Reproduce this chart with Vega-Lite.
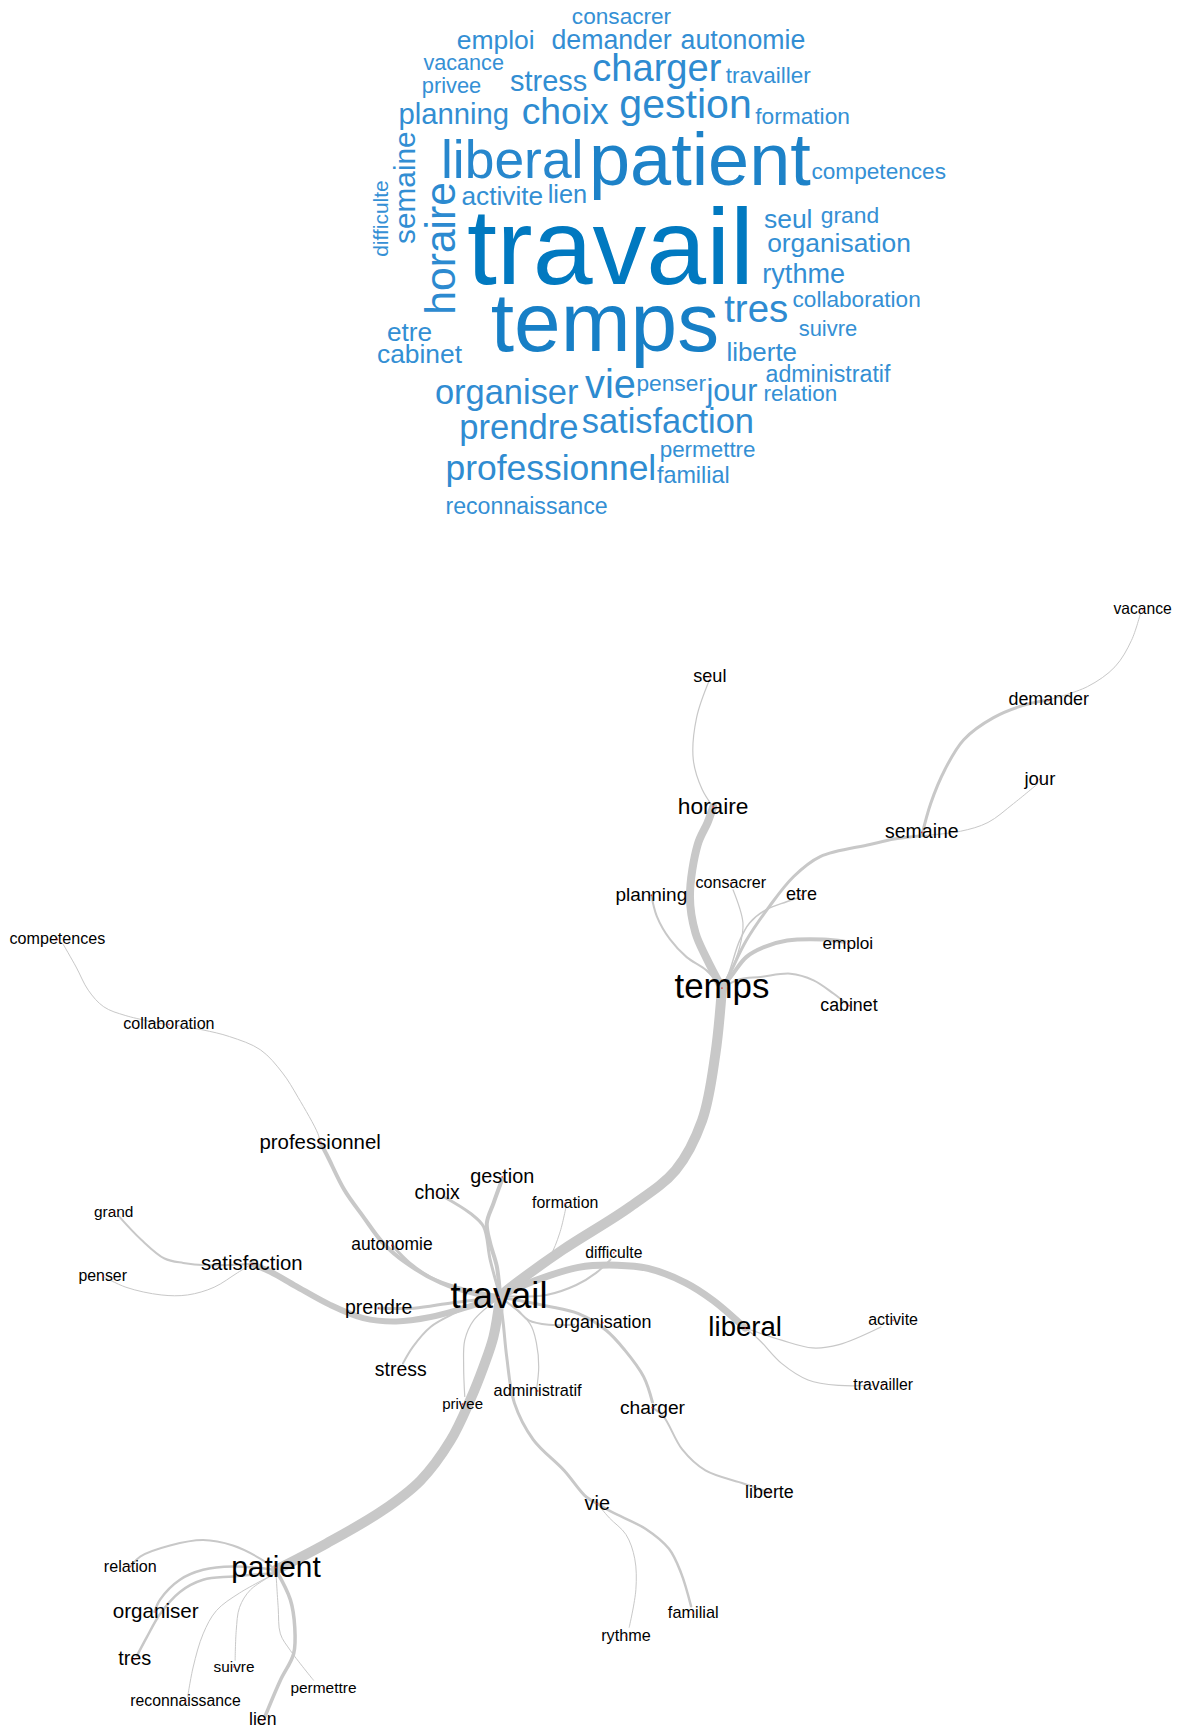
{
"$schema": "https://vega.github.io/schema/vega-lite/v6.json",
"width": 1179, "height": 1731, "autosize": "none", "padding": 0,
"background": "white",
"config": {"view": {"stroke": null}},
"datasets": {
"cloud": [
{"word":"consacrer","x":563,"y":15,"freq":20.5,"rot":0},
{"word":"emploi","x":449,"y":37,"freq":24,"rot":0},
{"word":"demander","x":554,"y":37,"freq":24.2,"rot":0},
{"word":"autonomie","x":673,"y":37,"freq":24.2,"rot":0},
{"word":"vacance","x":420,"y":58,"freq":19.6,"rot":0},
{"word":"privee","x":409,"y":78,"freq":19.8,"rot":0},
{"word":"stress","x":497,"y":74,"freq":26.2,"rot":0},
{"word":"charger","x":595,"y":63,"freq":34.5,"rot":0},
{"word":"travailler","x":696,"y":69,"freq":20.4,"rot":0},
{"word":"planning","x":411,"y":104,"freq":26.5,"rot":0},
{"word":"choix","x":512,"y":102,"freq":33.8,"rot":0},
{"word":"gestion","x":621,"y":96,"freq":37.2,"rot":0},
{"word":"formation","x":727,"y":106,"freq":20.6,"rot":0},
{"word":"liberal","x":464,"y":147,"freq":48.4,"rot":0},
{"word":"patient","x":634,"y":148,"freq":67,"rot":0},
{"word":"competences","x":796,"y":156,"freq":20.5,"rot":0},
{"word":"activite","x":455,"y":178,"freq":23.8,"rot":0},
{"word":"lien","x":514,"y":177,"freq":23,"rot":0},
{"word":"seul","x":714,"y":199,"freq":24,"rot":0},
{"word":"grand","x":770,"y":196,"freq":20.7,"rot":0},
{"word":"organisation","x":760,"y":221,"freq":23.9,"rot":0},
{"word":"difficulte","x":346,"y":198,"freq":19,"rot":270},
{"word":"semaine","x":368,"y":170,"freq":27,"rot":270},
{"word":"horaire","x":400,"y":225,"freq":38.6,"rot":270},
{"word":"travail","x":553,"y":228,"freq":97.5,"rot":0},
{"word":"rythme","x":728,"y":249,"freq":24.5,"rot":0},
{"word":"temps","x":548,"y":295,"freq":76,"rot":0},
{"word":"tres","x":685,"y":281,"freq":34.8,"rot":0},
{"word":"collaboration","x":776,"y":272,"freq":20.5,"rot":0},
{"word":"suivre","x":750,"y":298,"freq":19.9,"rot":0},
{"word":"etre","x":371,"y":302,"freq":23.8,"rot":0},
{"word":"cabinet","x":380,"y":322,"freq":23.9,"rot":0},
{"word":"liberte","x":690,"y":320,"freq":23.5,"rot":0},
{"word":"administratif","x":750,"y":340,"freq":21,"rot":0},
{"word":"relation","x":725,"y":357,"freq":20.4,"rot":0},
{"word":"organiser","x":459,"y":357,"freq":31.2,"rot":0},
{"word":"vie","x":553,"y":350,"freq":36,"rot":0},
{"word":"penser","x":608,"y":348,"freq":20.6,"rot":0},
{"word":"jour","x":663,"y":355,"freq":27.6,"rot":0},
{"word":"prendre","x":470,"y":389,"freq":31.3,"rot":0},
{"word":"satisfaction","x":605,"y":383,"freq":31.2,"rot":0},
{"word":"permettre","x":641,"y":408,"freq":20.3,"rot":0},
{"word":"professionnel","x":499,"y":425,"freq":32.1,"rot":0},
{"word":"familial","x":628,"y":431,"freq":21.2,"rot":0},
{"word":"reconnaissance","x":477,"y":459,"freq":21,"rot":0}
],
"nodes": [
{"label":"vacance","x":1035,"y":552,"deg":14.2},
{"label":"seul","x":643,"y":613,"deg":16.4},
{"label":"demander","x":950,"y":634,"deg":16.2},
{"label":"jour","x":942,"y":706,"deg":16.8},
{"label":"horaire","x":646,"y":731,"deg":20.6},
{"label":"semaine","x":835,"y":754,"deg":17.7},
{"label":"planning","x":590,"y":811,"deg":17.2},
{"label":"consacrer","x":662,"y":800,"deg":14.6},
{"label":"etre","x":726,"y":811,"deg":16.3},
{"label":"competences","x":52,"y":851,"deg":14.6},
{"label":"emploi","x":768,"y":855,"deg":15.6},
{"label":"temps","x":654,"y":895,"deg":31.6},
{"label":"cabinet","x":769,"y":911,"deg":16.1},
{"label":"collaboration","x":153,"y":928,"deg":14.6},
{"label":"professionnel","x":290,"y":1035,"deg":18.5},
{"label":"gestion","x":455,"y":1066,"deg":18},
{"label":"choix","x":396,"y":1081,"deg":17.6},
{"label":"formation","x":512,"y":1090,"deg":14.4},
{"label":"grand","x":103,"y":1098,"deg":14},
{"label":"autonomie","x":355,"y":1128,"deg":15.8},
{"label":"difficulte","x":556,"y":1135,"deg":14.2},
{"label":"satisfaction","x":228,"y":1145,"deg":18.4},
{"label":"penser","x":93,"y":1156,"deg":14.4},
{"label":"travail","x":452,"y":1175,"deg":33},
{"label":"prendre","x":343,"y":1185,"deg":17.7},
{"label":"organisation","x":546,"y":1198,"deg":16.2},
{"label":"liberal","x":675,"y":1203,"deg":25},
{"label":"activite","x":809,"y":1196,"deg":14.5},
{"label":"stress","x":363,"y":1241,"deg":17.6},
{"label":"administratif","x":487,"y":1260,"deg":14.8},
{"label":"privee","x":419,"y":1272,"deg":13.6},
{"label":"travailler","x":800,"y":1255,"deg":14.3},
{"label":"charger","x":591,"y":1275,"deg":17.4},
{"label":"liberte","x":697,"y":1352,"deg":16.2},
{"label":"vie","x":541,"y":1362,"deg":18},
{"label":"relation","x":118,"y":1419,"deg":14.6},
{"label":"patient","x":250,"y":1420,"deg":27},
{"label":"organiser","x":141,"y":1460,"deg":18.7},
{"label":"familial","x":628,"y":1461,"deg":14.8},
{"label":"rythme","x":567,"y":1482,"deg":14.7},
{"label":"tres","x":122,"y":1503,"deg":18},
{"label":"suivre","x":212,"y":1510,"deg":13.9},
{"label":"permettre","x":293,"y":1529,"deg":14},
{"label":"reconnaissance","x":168,"y":1541,"deg":14.3},
{"label":"lien","x":238,"y":1558,"deg":16}
],
"edges": [
{"e":"temps-travail","i":1,"x":654,"y":895,"w":10},{"e":"temps-travail","i":2,"x":648,"y":955,"w":10},{"e":"temps-travail","i":3,"x":636,"y":1015,"w":10},{"e":"temps-travail","i":4,"x":612,"y":1060,"w":10},{"e":"temps-travail","i":5,"x":571,"y":1093,"w":10},{"e":"temps-travail","i":6,"x":510,"y":1132,"w":10},{"e":"temps-travail","i":7,"x":468,"y":1162,"w":10},{"e":"temps-travail","i":8,"x":453,"y":1174,"w":10},
{"e":"temps-horaire","i":1,"x":646,"y":731,"w":8},{"e":"temps-horaire","i":2,"x":641,"y":745,"w":8},{"e":"temps-horaire","i":3,"x":632,"y":765,"w":8},{"e":"temps-horaire","i":4,"x":625,"y":812,"w":8},{"e":"temps-horaire","i":5,"x":630,"y":845,"w":8},{"e":"temps-horaire","i":6,"x":640,"y":868,"w":8},{"e":"temps-horaire","i":7,"x":654,"y":895,"w":8},
{"e":"horaire-seul","i":1,"x":643,"y":615,"w":1.2},{"e":"horaire-seul","i":2,"x":631,"y":650,"w":1.2},{"e":"horaire-seul","i":3,"x":628,"y":688,"w":1.2},{"e":"horaire-seul","i":4,"x":636,"y":715,"w":1.2},{"e":"horaire-seul","i":5,"x":646,"y":731,"w":1.2},
{"e":"temps-planning","i":1,"x":590,"y":811,"w":2},{"e":"temps-planning","i":2,"x":595,"y":830,"w":2},{"e":"temps-planning","i":3,"x":607,"y":851,"w":2},{"e":"temps-planning","i":4,"x":622,"y":867,"w":2},{"e":"temps-planning","i":5,"x":640,"y":879,"w":2},{"e":"temps-planning","i":6,"x":654,"y":895,"w":2},
{"e":"temps-consacrer","i":1,"x":664,"y":806,"w":1.2},{"e":"temps-consacrer","i":2,"x":673,"y":836,"w":1.2},{"e":"temps-consacrer","i":3,"x":670,"y":858,"w":1.2},{"e":"temps-consacrer","i":4,"x":661,"y":882,"w":1.2},{"e":"temps-consacrer","i":5,"x":654,"y":895,"w":1.2},
{"e":"temps-etre","i":1,"x":724,"y":813,"w":1.5},{"e":"temps-etre","i":2,"x":712,"y":817,"w":1.5},{"e":"temps-etre","i":3,"x":694,"y":824,"w":1.5},{"e":"temps-etre","i":4,"x":679,"y":836,"w":1.5},{"e":"temps-etre","i":5,"x":670,"y":852,"w":1.5},{"e":"temps-etre","i":6,"x":660,"y":882,"w":1.5},{"e":"temps-etre","i":7,"x":654,"y":895,"w":1.5},
{"e":"temps-semaine","i":1,"x":835,"y":757,"w":3},{"e":"temps-semaine","i":2,"x":810,"y":760,"w":3},{"e":"temps-semaine","i":3,"x":788,"y":765,"w":3},{"e":"temps-semaine","i":4,"x":743,"y":776,"w":3},{"e":"temps-semaine","i":5,"x":719,"y":794,"w":3},{"e":"temps-semaine","i":6,"x":697,"y":821,"w":3},{"e":"temps-semaine","i":7,"x":676,"y":852,"w":3},{"e":"temps-semaine","i":8,"x":661,"y":882,"w":3},{"e":"temps-semaine","i":9,"x":654,"y":895,"w":3},
{"e":"semaine-demander","i":1,"x":835,"y":757,"w":3},{"e":"semaine-demander","i":2,"x":843,"y":728,"w":3},{"e":"semaine-demander","i":3,"x":856,"y":697,"w":3},{"e":"semaine-demander","i":4,"x":873,"y":670,"w":3},{"e":"semaine-demander","i":5,"x":900,"y":650,"w":3},{"e":"semaine-demander","i":6,"x":930,"y":638,"w":3},{"e":"semaine-demander","i":7,"x":950,"y":634,"w":3},
{"e":"demander-vacance","i":1,"x":950,"y":634,"w":1},{"e":"demander-vacance","i":2,"x":985,"y":622,"w":1},{"e":"demander-vacance","i":3,"x":1010,"y":604,"w":1},{"e":"demander-vacance","i":4,"x":1025,"y":580,"w":1},{"e":"demander-vacance","i":5,"x":1033,"y":556,"w":1},
{"e":"semaine-jour","i":1,"x":835,"y":757,"w":1},{"e":"semaine-jour","i":2,"x":870,"y":753,"w":1},{"e":"semaine-jour","i":3,"x":895,"y":745,"w":1},{"e":"semaine-jour","i":4,"x":918,"y":728,"w":1},{"e":"semaine-jour","i":5,"x":940,"y":710,"w":1},
{"e":"temps-emploi","i":1,"x":654,"y":895,"w":4},{"e":"temps-emploi","i":2,"x":664,"y":882,"w":4},{"e":"temps-emploi","i":3,"x":676,"y":867,"w":4},{"e":"temps-emploi","i":4,"x":692,"y":858,"w":4},{"e":"temps-emploi","i":5,"x":713,"y":852,"w":4},{"e":"temps-emploi","i":6,"x":746,"y":851,"w":4},{"e":"temps-emploi","i":7,"x":765,"y":853,"w":4},
{"e":"temps-cabinet","i":1,"x":654,"y":895,"w":2},{"e":"temps-cabinet","i":2,"x":670,"y":887,"w":2},{"e":"temps-cabinet","i":3,"x":689,"y":885,"w":2},{"e":"temps-cabinet","i":4,"x":716,"y":882,"w":2},{"e":"temps-cabinet","i":5,"x":737,"y":888,"w":2},{"e":"temps-cabinet","i":6,"x":755,"y":900,"w":2},{"e":"temps-cabinet","i":7,"x":769,"y":911,"w":2},
{"e":"travail-liberal","i":1,"x":453,"y":1174,"w":7},{"e":"travail-liberal","i":2,"x":485,"y":1160,"w":7},{"e":"travail-liberal","i":3,"x":524,"y":1148,"w":7},{"e":"travail-liberal","i":4,"x":559,"y":1146,"w":7},{"e":"travail-liberal","i":5,"x":587,"y":1149,"w":7},{"e":"travail-liberal","i":6,"x":621,"y":1162,"w":7},{"e":"travail-liberal","i":7,"x":646,"y":1178,"w":7},{"e":"travail-liberal","i":8,"x":675,"y":1203,"w":7},
{"e":"liberal-activite","i":1,"x":675,"y":1203,"w":1.2},{"e":"liberal-activite","i":2,"x":708,"y":1214,"w":1.2},{"e":"liberal-activite","i":3,"x":736,"y":1221,"w":1.2},{"e":"liberal-activite","i":4,"x":760,"y":1218,"w":1.2},{"e":"liberal-activite","i":5,"x":798,"y":1202,"w":1.2},
{"e":"liberal-travailler","i":1,"x":675,"y":1203,"w":1.2},{"e":"liberal-travailler","i":2,"x":688,"y":1214,"w":1.2},{"e":"liberal-travailler","i":3,"x":708,"y":1235,"w":1.2},{"e":"liberal-travailler","i":4,"x":732,"y":1250,"w":1.2},{"e":"liberal-travailler","i":5,"x":760,"y":1255,"w":1.2},{"e":"liberal-travailler","i":6,"x":790,"y":1255,"w":1.2},
{"e":"travail-difficulte","i":1,"x":453,"y":1174,"w":2},{"e":"travail-difficulte","i":2,"x":495,"y":1173,"w":2},{"e":"travail-difficulte","i":3,"x":522,"y":1164,"w":2},{"e":"travail-difficulte","i":4,"x":540,"y":1153,"w":2},{"e":"travail-difficulte","i":5,"x":553,"y":1141,"w":2},
{"e":"travail-formation","i":1,"x":453,"y":1174,"w":1},{"e":"travail-formation","i":2,"x":486,"y":1150,"w":1},{"e":"travail-formation","i":3,"x":498,"y":1138,"w":1},{"e":"travail-formation","i":4,"x":507,"y":1117,"w":1},{"e":"travail-formation","i":5,"x":513,"y":1092,"w":1},
{"e":"travail-gestion","i":1,"x":453,"y":1174,"w":4},{"e":"travail-gestion","i":2,"x":450,"y":1147,"w":4},{"e":"travail-gestion","i":3,"x":444,"y":1126,"w":4},{"e":"travail-gestion","i":4,"x":441,"y":1108,"w":4},{"e":"travail-gestion","i":5,"x":447,"y":1090,"w":4},{"e":"travail-gestion","i":6,"x":455,"y":1068,"w":4},
{"e":"travail-choix","i":1,"x":453,"y":1174,"w":3},{"e":"travail-choix","i":2,"x":444,"y":1141,"w":3},{"e":"travail-choix","i":3,"x":438,"y":1111,"w":3},{"e":"travail-choix","i":4,"x":426,"y":1099,"w":3},{"e":"travail-choix","i":5,"x":402,"y":1084,"w":3},
{"e":"travail-professionnel","i":1,"x":290,"y":1035,"w":4},{"e":"travail-professionnel","i":2,"x":296,"y":1046,"w":4},{"e":"travail-professionnel","i":3,"x":312,"y":1078,"w":4},{"e":"travail-professionnel","i":4,"x":329,"y":1102,"w":4},{"e":"travail-professionnel","i":5,"x":347,"y":1126,"w":4},{"e":"travail-professionnel","i":6,"x":368,"y":1144,"w":4},{"e":"travail-professionnel","i":7,"x":399,"y":1162,"w":4},{"e":"travail-professionnel","i":8,"x":433,"y":1173,"w":4},{"e":"travail-professionnel","i":9,"x":453,"y":1175,"w":4},
{"e":"professionnel-collaboration","i":1,"x":290,"y":1035,"w":1},{"e":"professionnel-collaboration","i":2,"x":288,"y":1027,"w":1},{"e":"professionnel-collaboration","i":3,"x":270,"y":994,"w":1},{"e":"professionnel-collaboration","i":4,"x":256,"y":972,"w":1},{"e":"professionnel-collaboration","i":5,"x":236,"y":951,"w":1},{"e":"professionnel-collaboration","i":6,"x":208,"y":939,"w":1},{"e":"professionnel-collaboration","i":7,"x":184,"y":933,"w":1},{"e":"professionnel-collaboration","i":8,"x":160,"y":929,"w":1},
{"e":"collaboration-competences","i":1,"x":150,"y":928,"w":1},{"e":"collaboration-competences","i":2,"x":114,"y":920,"w":1},{"e":"collaboration-competences","i":3,"x":94,"y":912,"w":1},{"e":"collaboration-competences","i":4,"x":80,"y":897,"w":1},{"e":"collaboration-competences","i":5,"x":69,"y":876,"w":1},{"e":"collaboration-competences","i":6,"x":57,"y":855,"w":1},
{"e":"travail-autonomie","i":1,"x":356,"y":1129,"w":3},{"e":"travail-autonomie","i":2,"x":371,"y":1144,"w":3},{"e":"travail-autonomie","i":3,"x":390,"y":1157,"w":3},{"e":"travail-autonomie","i":4,"x":414,"y":1166,"w":3},{"e":"travail-autonomie","i":5,"x":441,"y":1172,"w":3},{"e":"travail-autonomie","i":6,"x":453,"y":1174,"w":3},
{"e":"satisfaction-travail","i":1,"x":228,"y":1145,"w":6},{"e":"satisfaction-travail","i":2,"x":245,"y":1152,"w":6},{"e":"satisfaction-travail","i":3,"x":268,"y":1165,"w":6},{"e":"satisfaction-travail","i":4,"x":299,"y":1182,"w":6},{"e":"satisfaction-travail","i":5,"x":329,"y":1194,"w":6},{"e":"satisfaction-travail","i":6,"x":359,"y":1197,"w":6},{"e":"satisfaction-travail","i":7,"x":390,"y":1193,"w":6},{"e":"satisfaction-travail","i":8,"x":420,"y":1185,"w":6},{"e":"satisfaction-travail","i":9,"x":453,"y":1175,"w":6},
{"e":"prendre-travail","i":1,"x":343,"y":1185,"w":3},{"e":"prendre-travail","i":2,"x":375,"y":1185,"w":3},{"e":"prendre-travail","i":3,"x":410,"y":1180,"w":3},{"e":"prendre-travail","i":4,"x":453,"y":1175,"w":3},
{"e":"satisfaction-grand","i":1,"x":228,"y":1145,"w":2},{"e":"satisfaction-grand","i":2,"x":187,"y":1146,"w":2},{"e":"satisfaction-grand","i":3,"x":166,"y":1144,"w":2},{"e":"satisfaction-grand","i":4,"x":149,"y":1140,"w":2},{"e":"satisfaction-grand","i":5,"x":128,"y":1123,"w":2},{"e":"satisfaction-grand","i":6,"x":108,"y":1102,"w":2},
{"e":"satisfaction-penser","i":1,"x":228,"y":1145,"w":1},{"e":"satisfaction-penser","i":2,"x":215,"y":1153,"w":1},{"e":"satisfaction-penser","i":3,"x":194,"y":1166,"w":1},{"e":"satisfaction-penser","i":4,"x":170,"y":1173,"w":1},{"e":"satisfaction-penser","i":5,"x":146,"y":1173,"w":1},{"e":"satisfaction-penser","i":6,"x":114,"y":1166,"w":1},{"e":"satisfaction-penser","i":7,"x":93,"y":1156,"w":1},
{"e":"travail-stress","i":1,"x":453,"y":1175,"w":2},{"e":"travail-stress","i":2,"x":430,"y":1182,"w":2},{"e":"travail-stress","i":3,"x":411,"y":1190,"w":2},{"e":"travail-stress","i":4,"x":390,"y":1202,"w":2},{"e":"travail-stress","i":5,"x":374,"y":1220,"w":2},{"e":"travail-stress","i":6,"x":365,"y":1235,"w":2},
{"e":"travail-privee","i":1,"x":453,"y":1175,"w":1.2},{"e":"travail-privee","i":2,"x":429,"y":1196,"w":1.2},{"e":"travail-privee","i":3,"x":421,"y":1214,"w":1.2},{"e":"travail-privee","i":4,"x":420,"y":1238,"w":1.2},{"e":"travail-privee","i":5,"x":421,"y":1265,"w":1.2},
{"e":"travail-administratif","i":1,"x":453,"y":1175,"w":1.2},{"e":"travail-administratif","i":2,"x":480,"y":1199,"w":1.2},{"e":"travail-administratif","i":3,"x":486,"y":1217,"w":1.2},{"e":"travail-administratif","i":4,"x":488,"y":1238,"w":1.2},{"e":"travail-administratif","i":5,"x":486,"y":1259,"w":1.2},
{"e":"travail-organisation","i":1,"x":453,"y":1175,"w":2},{"e":"travail-organisation","i":2,"x":469,"y":1187,"w":2},{"e":"travail-organisation","i":3,"x":479,"y":1196,"w":2},{"e":"travail-organisation","i":4,"x":497,"y":1200,"w":2},{"e":"travail-organisation","i":5,"x":520,"y":1200,"w":2},
{"e":"travail-charger","i":1,"x":453,"y":1175,"w":3},{"e":"travail-charger","i":2,"x":495,"y":1183,"w":3},{"e":"travail-charger","i":3,"x":524,"y":1190,"w":3},{"e":"travail-charger","i":4,"x":549,"y":1205,"w":3},{"e":"travail-charger","i":5,"x":566,"y":1223,"w":3},{"e":"travail-charger","i":6,"x":583,"y":1247,"w":3},{"e":"travail-charger","i":7,"x":591,"y":1270,"w":3},
{"e":"charger-liberte","i":1,"x":591,"y":1275,"w":2},{"e":"charger-liberte","i":2,"x":601,"y":1283,"w":2},{"e":"charger-liberte","i":3,"x":618,"y":1313,"w":2},{"e":"charger-liberte","i":4,"x":639,"y":1332,"w":2},{"e":"charger-liberte","i":5,"x":674,"y":1344,"w":2},{"e":"charger-liberte","i":6,"x":697,"y":1352,"w":2},
{"e":"travail-vie","i":1,"x":453,"y":1175,"w":3},{"e":"travail-vie","i":2,"x":456,"y":1200,"w":3},{"e":"travail-vie","i":3,"x":459,"y":1229,"w":3},{"e":"travail-vie","i":4,"x":466,"y":1271,"w":3},{"e":"travail-vie","i":5,"x":483,"y":1304,"w":3},{"e":"travail-vie","i":6,"x":511,"y":1332,"w":3},{"e":"travail-vie","i":7,"x":531,"y":1356,"w":3},{"e":"travail-vie","i":8,"x":541,"y":1362,"w":3},
{"e":"vie-familial","i":1,"x":541,"y":1362,"w":2.5},{"e":"vie-familial","i":2,"x":555,"y":1370,"w":2.5},{"e":"vie-familial","i":3,"x":585,"y":1385,"w":2.5},{"e":"vie-familial","i":4,"x":606,"y":1403,"w":2.5},{"e":"vie-familial","i":5,"x":617,"y":1425,"w":2.5},{"e":"vie-familial","i":6,"x":626,"y":1455,"w":2.5},
{"e":"vie-rythme","i":1,"x":541,"y":1362,"w":1},{"e":"vie-rythme","i":2,"x":552,"y":1375,"w":1},{"e":"vie-rythme","i":3,"x":567,"y":1390,"w":1},{"e":"vie-rythme","i":4,"x":575,"y":1412,"w":1},{"e":"vie-rythme","i":5,"x":576,"y":1440,"w":1},{"e":"vie-rythme","i":6,"x":570,"y":1474,"w":1},
{"e":"travail-patient","i":1,"x":453,"y":1175,"w":10},{"e":"travail-patient","i":2,"x":447,"y":1211,"w":10},{"e":"travail-patient","i":3,"x":438,"y":1238,"w":10},{"e":"travail-patient","i":4,"x":426,"y":1268,"w":10},{"e":"travail-patient","i":5,"x":408,"y":1305,"w":10},{"e":"travail-patient","i":6,"x":381,"y":1341,"w":10},{"e":"travail-patient","i":7,"x":347,"y":1368,"w":10},{"e":"travail-patient","i":8,"x":296,"y":1398,"w":10},{"e":"travail-patient","i":9,"x":250,"y":1422,"w":10},
{"e":"patient-relation","i":1,"x":250,"y":1422,"w":2},{"e":"patient-relation","i":2,"x":236,"y":1412,"w":2},{"e":"patient-relation","i":3,"x":211,"y":1400,"w":2},{"e":"patient-relation","i":4,"x":184,"y":1395,"w":2},{"e":"patient-relation","i":5,"x":154,"y":1400,"w":2},{"e":"patient-relation","i":6,"x":127,"y":1410,"w":2},{"e":"patient-relation","i":7,"x":119,"y":1418,"w":2},
{"e":"patient-organiser","i":1,"x":250,"y":1422,"w":2.5},{"e":"patient-organiser","i":2,"x":211,"y":1419,"w":2.5},{"e":"patient-organiser","i":3,"x":184,"y":1422,"w":2.5},{"e":"patient-organiser","i":4,"x":163,"y":1431,"w":2.5},{"e":"patient-organiser","i":5,"x":145,"y":1449,"w":2.5},{"e":"patient-organiser","i":6,"x":140,"y":1460,"w":2.5},
{"e":"patient-tres","i":1,"x":250,"y":1425,"w":2.5},{"e":"patient-tres","i":2,"x":211,"y":1428,"w":2.5},{"e":"patient-tres","i":3,"x":184,"y":1431,"w":2.5},{"e":"patient-tres","i":4,"x":163,"y":1442,"w":2.5},{"e":"patient-tres","i":5,"x":145,"y":1462,"w":2.5},{"e":"patient-tres","i":6,"x":133,"y":1483,"w":2.5},{"e":"patient-tres","i":7,"x":124,"y":1500,"w":2.5},
{"e":"patient-suivre","i":1,"x":250,"y":1425,"w":1},{"e":"patient-suivre","i":2,"x":227,"y":1440,"w":1},{"e":"patient-suivre","i":3,"x":217,"y":1456,"w":1},{"e":"patient-suivre","i":4,"x":214,"y":1477,"w":1},{"e":"patient-suivre","i":5,"x":213,"y":1504,"w":1},
{"e":"patient-reconnaissance","i":1,"x":250,"y":1425,"w":1},{"e":"patient-reconnaissance","i":2,"x":217,"y":1443,"w":1},{"e":"patient-reconnaissance","i":3,"x":196,"y":1459,"w":1},{"e":"patient-reconnaissance","i":4,"x":184,"y":1480,"w":1},{"e":"patient-reconnaissance","i":5,"x":175,"y":1510,"w":1},{"e":"patient-reconnaissance","i":6,"x":170,"y":1537,"w":1},
{"e":"patient-lien","i":1,"x":250,"y":1422,"w":3.5},{"e":"patient-lien","i":2,"x":263,"y":1449,"w":3.5},{"e":"patient-lien","i":3,"x":267,"y":1474,"w":3.5},{"e":"patient-lien","i":4,"x":266,"y":1498,"w":3.5},{"e":"patient-lien","i":5,"x":254,"y":1522,"w":3.5},{"e":"patient-lien","i":6,"x":240,"y":1555,"w":3.5},
{"e":"patient-permettre","i":1,"x":250,"y":1425,"w":1},{"e":"patient-permettre","i":2,"x":252,"y":1456,"w":1},{"e":"patient-permettre","i":3,"x":254,"y":1480,"w":1},{"e":"patient-permettre","i":4,"x":263,"y":1495,"w":1},{"e":"patient-permettre","i":5,"x":284,"y":1522,"w":1}
]
},
"resolve": {"scale": {"size": "independent", "color": "independent"}},
"layer": [
{
"data": {"name": "edges"},
"mark": {"type": "line", "interpolate": "catmull-rom", "color": "#C8C8C8", "strokeCap": "round", "strokeJoin": "round"},
"encoding": {
"x": {"field": "x", "type": "quantitative", "scale": {"domain": [0, 1068], "nice": false, "zero": false}, "axis": null},
"y": {"field": "y", "type": "quantitative", "scale": {"domain": [0, 1568], "nice": false, "zero": false, "reverse": true}, "axis": null},
"detail": {"field": "e"},
"order": {"field": "i", "type": "quantitative"},
"size": {"field": "w", "type": "quantitative", "scale": null, "legend": null}
}
},
{
"data": {"name": "nodes"},
"mark": {"type": "text", "font": "Liberation Sans", "color": "#000000", "align": "center", "baseline": "middle"},
"encoding": {
"x": {"field": "x", "type": "quantitative", "axis": null},
"y": {"field": "y", "type": "quantitative", "axis": null},
"text": {"field": "label"},
"size": {"field": "deg", "type": "quantitative", "scale": {"type": "linear", "domain": [0, 100], "range": [0, 110.39], "zero": true}, "legend": null}
}
},
{
"data": {"name": "nodes"},
"mark": {"type": "point", "filled": true, "color": "#E02020", "size": 3, "opacity": 0.8},
"encoding": {
"x": {"field": "x", "type": "quantitative", "axis": null},
"y": {"field": "y", "type": "quantitative", "axis": null}
}
},
{
"data": {"name": "cloud"},
"mark": {"type": "text", "font": "Liberation Sans", "align": "center", "baseline": "middle"},
"encoding": {
"x": {"field": "x", "type": "quantitative", "axis": null},
"y": {"field": "y", "type": "quantitative", "axis": null},
"text": {"field": "word"},
"angle": {"field": "rot", "type": "quantitative", "scale": null},
"size": {"field": "freq", "type": "quantitative", "scale": {"type": "linear", "domain": [0, 100], "range": [0, 110.39], "zero": true}, "legend": null},
"color": {"field": "freq", "type": "quantitative", "scale": {"domain": [19, 98], "range": ["#3590D5", "#0079C0"]}, "legend": null}
}
}
]
}
